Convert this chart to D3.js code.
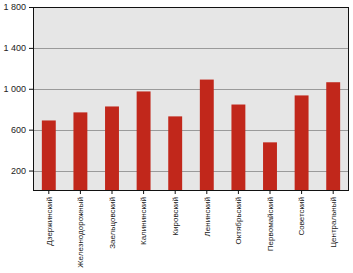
<!DOCTYPE html>
<html>
<head>
<meta charset="utf-8">
<script src="https://cdn.jsdelivr.net/npm/d3@7"></script>
<style>
  body { margin: 0; background: #fff; }
  text { font-family: "Liberation Sans Narrow", "Liberation Sans", Arial, sans-serif; }
</style>
</head>
<body>
<div id="chart-div"></div>
<script>
const districts = ["Дзержинский", "Железнодорожный", "Заельцовский", "Калининский", "Кировский",
    "Ленинский", "Октябрьский", "Первомайский", "Советский", "Центральный"];
const values = [690, 769, 827, 974, 730, 1090, 846, 476, 935, 1064];
const yTicks = [200, 600, 1000, 1400, 1800];

const svgDims = { width: 353, height: 273 };
const margin = { top: 7, right: 4, bottom: 82, left: 33 };

const svg = d3.select("#chart-div")
    .append("svg")
    .attr("width", svgDims.width)
    .attr("height", svgDims.height);

const width = svgDims.width - margin.left - margin.right;
const height = svgDims.height - margin.top - margin.bottom;
const g = svg.append("g").attr("transform", "translate(" + margin.left + "," + margin.top + ")");

const x = d3.scaleBand()
    .domain(districts)
    .range([0, width])
    .paddingInner(0.56)
    .paddingOuter(0.28);

const y = d3.scaleLinear()
    .domain([0, 1800])
    .range([height, 0]);

// plot background
g.append("rect")
    .attr("width", width)
    .attr("height", height)
    .style("fill", "#e6e6e6");

// gridlines
g.selectAll(".grid").data(yTicks).enter().append("line")
    .attr("x1", 0)
    .attr("x2", width)
    .attr("y1", d => Math.round(y(d)) + 0.5)
    .attr("y2", d => Math.round(y(d)) + 0.5)
    .style("stroke", "#9a9a9a")
    .style("stroke-width", 1);

// bars
g.selectAll(".bar").data(values).enter().append("rect")
    .attr("x", (d, i) => x(districts[i]))
    .attr("width", x.bandwidth())
    .attr("y", d => y(d))
    .attr("height", d => height - y(d))
    .style("fill", "#c1271b");

// frame
g.append("rect")
    .attr("x", 0.5)
    .attr("y", 0.5)
    .attr("width", width - 1)
    .attr("height", height - 1)
    .style("fill", "none")
    .style("stroke", "#111")
    .style("stroke-width", 1);

// y axis
const yAxis = g.append("g")
    .call(d3.axisLeft(y)
        .tickValues(yTicks)
        .tickSize(4)
        .tickFormat(d => d3.format(",")(d).replace(",", " ")));
yAxis.select(".domain").remove();
yAxis.selectAll("line").style("stroke", "#111");
yAxis.selectAll("text")
    .attr("x", -7)
    .style("font-size", "9px")
    .style("fill", "#222");

// x axis - rotated district names
const xAxis = g.append("g")
    .attr("transform", "translate(0," + height + ")")
    .call(d3.axisBottom(x).tickSize(3).tickSizeOuter(0));
xAxis.select(".domain").remove();
xAxis.selectAll("line").style("stroke", "#111");
xAxis.selectAll("text")
    .attr("transform", "rotate(-90)")
    .attr("x", -6)
    .attr("y", 0)
    .attr("dy", "0.35em")
    .style("text-anchor", "end")
    .style("font-size", "8px")
    .style("fill", "#222");
</script>
</body>
</html>
